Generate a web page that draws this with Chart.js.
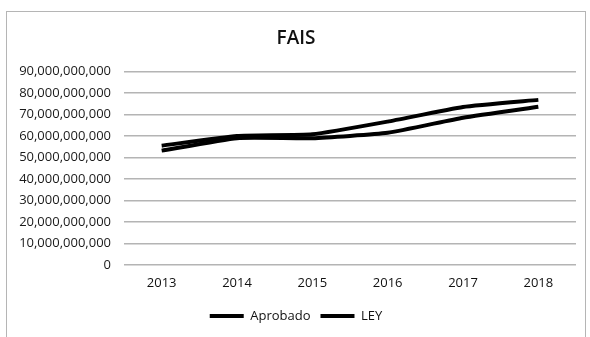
<!DOCTYPE html>
<html>
<head>
<meta charset="utf-8">
<title>FAIS</title>
<script src="https://cdn.jsdelivr.net/npm/chart.js@4/dist/chart.umd.min.js"></script>
<style>
    body { margin: 0; background: #fff; }
    #wrap { position: relative; width: 590px; height: 337px; }
    #frame { position: absolute; left: 6px; top: 11px; width: 578px; height: 340px; border: 1px solid #b5b5b5; }
    #chart { position: absolute; left: 0; top: 0; }
</style>
</head>
<body>
<div id="wrap">
    <div id="frame"></div>
    <canvas id="chart" width="590" height="337"></canvas>
</div>
<script>
// Years on the x axis
const years = ['2013', '2014', '2015', '2016', '2017', '2018'];

// Values (pesos)
const aprobado = [55.5e9, 60.0e9, 60.8e9, 66.7e9, 73.5e9, 76.8e9];
const ley = [53.2e9, 59.0e9, 59.0e9, 61.5e9, 68.5e9, 73.6e9];

// y axis ticks
const yMin = 0;
const yMax = 90e9;
const yStep = 10e9;

const font = "'Open Sans', 'Liberation Sans', sans-serif";

const ctx = document.getElementById("chart").getContext("2d");

new Chart(ctx, {
    type: 'line',
    data: {
        labels: years,
        datasets: [{
            label: 'Aprobado',
            data: aprobado,
            borderColor: '#000',
            backgroundColor: '#000',
            borderWidth: 4,
            pointRadius: 0,
            tension: 0.15,
            fill: false
        }, {
            label: 'LEY',
            data: ley,
            borderColor: '#000',
            backgroundColor: '#000',
            borderWidth: 4,
            pointRadius: 0,
            tension: 0.15,
            fill: false
        }]
    },
    options: {
        responsive: false,
        animation: false,
        layout: {
            padding: { left: 16, right: 14, top: 0, bottom: 4.5 }
        },
        plugins: {
            title: {
                display: true,
                text: 'FAIS',
                color: '#111',
                font: { family: font, size: 19, weight: '600' },
                padding: { top: 27.6, bottom: 21.1 }
            },
            legend: {
                position: 'bottom',
                labels: {
                    usePointStyle: true,
                    pointStyle: 'line',
                    pointStyleWidth: 34,
                    color: '#111',
                    font: { family: font, size: 13 }
                }
            },
            tooltip: { enabled: false }
        },
        scales: {
            x: {
                offset: true,
                grid: { display: false, drawTicks: false },
                border: { display: false },
                ticks: {
                    padding: 10.5,
                    color: '#111',
                    font: { family: font, size: 13 }
                },
                afterFit: function (scale) { scale.height = 34.5; }
            },
            y: {
                min: yMin,
                max: yMax,
                grid: { color: '#b4b4b4', lineWidth: 1.5, drawTicks: false },
                border: { display: false },
                ticks: {
                    stepSize: yStep,
                    padding: 13,
                    color: '#1a1a1a',
                    font: { family: font, size: 13 },
                    callback: function (value) { return value.toLocaleString('en-US'); }
                },
                afterFit: function (scale) { scale.width = 108; }
            }
        }
    }
});
</script>
</body>
</html>
